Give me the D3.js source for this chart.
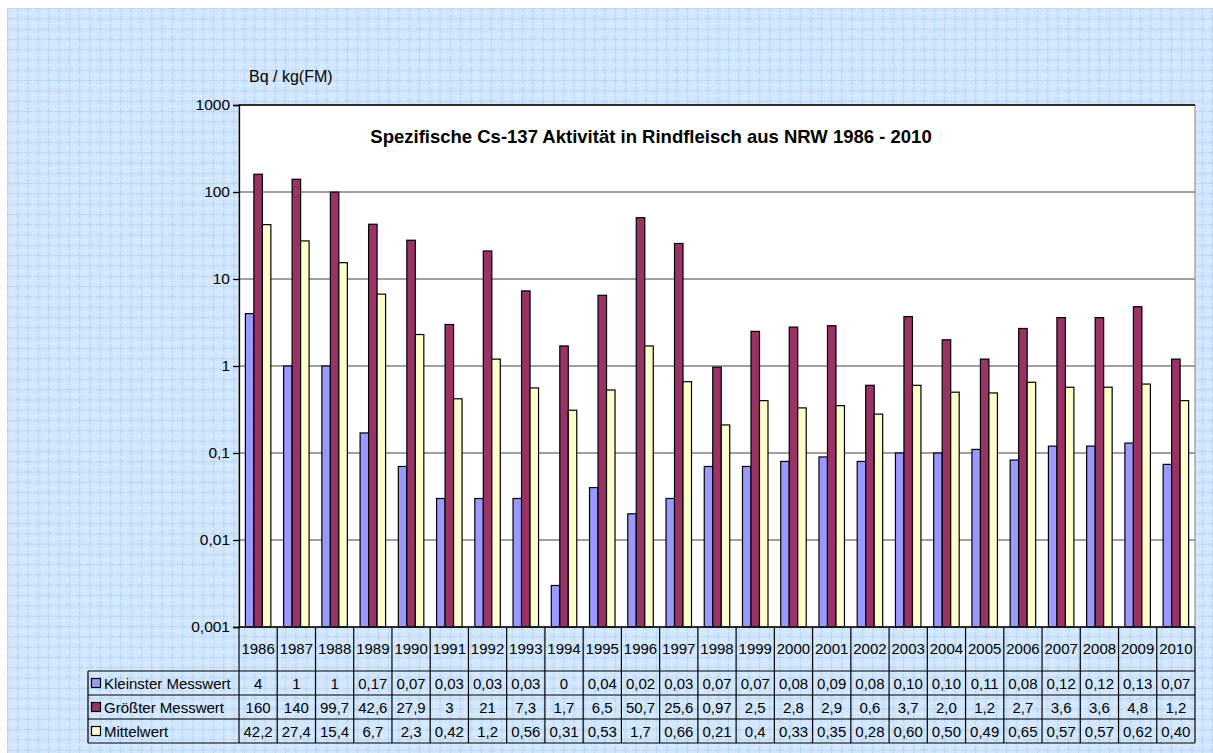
<!DOCTYPE html>
<html><head><meta charset="utf-8">
<script src="https://cdn.jsdelivr.net/npm/d3@7"></script>
<style>html,body{margin:0;padding:0;background:#fff;}svg{display:block;font-family:"Liberation Sans",Arial,sans-serif;}</style>
</head><body>
<svg id="c" width="1213" height="753"></svg>
<script>
const years = ["1986","1987","1988","1989","1990","1991","1992","1993","1994","1995","1996","1997","1998","1999","2000","2001","2002","2003","2004","2005","2006","2007","2008","2009","2010"];
const seriesNames = ["Kleinster Messwert","Größter Messwert","Mittelwert"];
const seriesColors = ["#9999FF","#993366","#FFFFCC"];
const kleinster = [4,1,1,0.17,0.07,0.03,0.03,0.03,0.003,0.04,0.02,0.03,0.07,0.07,0.08,0.09,0.08,0.10,0.10,0.11,0.083,0.12,0.12,0.13,0.074];
const groesster = [160,140,99.7,42.6,27.9,3,21,7.3,1.7,6.5,50.7,25.6,0.97,2.5,2.8,2.9,0.6,3.7,2.0,1.2,2.7,3.6,3.6,4.8,1.2];
const mittel = [42.2,27.4,15.4,6.7,2.3,0.42,1.2,0.56,0.31,0.53,1.7,0.66,0.21,0.4,0.33,0.35,0.28,0.60,0.50,0.49,0.65,0.57,0.57,0.62,0.40];
const kleinsterText = ["4","1","1","0,17","0,07","0,03","0,03","0,03","0","0,04","0,02","0,03","0,07","0,07","0,08","0,09","0,08","0,10","0,10","0,11","0,08","0,12","0,12","0,13","0,07"];
const groessterText = ["160","140","99,7","42,6","27,9","3","21","7,3","1,7","6,5","50,7","25,6","0,97","2,5","2,8","2,9","0,6","3,7","2,0","1,2","2,7","3,6","3,6","4,8","1,2"];
const mittelText = ["42,2","27,4","15,4","6,7","2,3","0,42","1,2","0,56","0,31","0,53","1,7","0,66","0,21","0,4","0,33","0,35","0,28","0,60","0,50","0,49","0,65","0,57","0,57","0,62","0,40"];
const yTicks = [0.001,0.01,0.1,1,10,100,1000];
const yTickLabels = ["0,001","0,01","0,1","1","10","100","1000"];
const title = "Spezifische Cs-137 Aktivität in Rindfleisch aus NRW 1986 - 2010";
const unit = "Bq / kg(FM)";

const svg = d3.select("#c");
const defs = svg.append("defs");
const P = 10.3;
const pat = defs.append("pattern").attr("id","grid").attr("patternUnits","userSpaceOnUse")
  .attr("x",7).attr("y",8).attr("width",P).attr("height",P);
pat.append("rect").attr("width",P).attr("height",P).attr("fill","#d3e7fc");
pat.append("line").attr("x1",0).attr("y1",0.5).attr("x2",P).attr("y2",0.5).attr("stroke","#b3d5f7").attr("stroke-width",1);
pat.append("line").attr("x1",0.5).attr("y1",0).attr("x2",0.5).attr("y2",P).attr("stroke","#b3d5f7").attr("stroke-width",1);
pat.append("line").attr("x1",0).attr("y1",5.5).attr("x2",P).attr("y2",5.5).attr("stroke","#e8f3ff").attr("stroke-width",1).attr("stroke-dasharray","1,3");
pat.append("line").attr("x1",5.5).attr("y1",0).attr("x2",5.5).attr("y2",P).attr("stroke","#e8f3ff").attr("stroke-width",1).attr("stroke-dasharray","1,3");
svg.append("rect").attr("x",7).attr("y",8).attr("width",1206).attr("height",745).attr("fill","url(#grid)");

const L = 239, R = 1195, T = 105, B = 627;
const x = d3.scaleBand().domain(years).range([L,R]).paddingInner(1/3).paddingOuter(1/6);
const xs = d3.scaleBand().domain(seriesNames).range([0,x.bandwidth()]);
const xc = d3.scaleBand().domain(years).range([L,R]);
const y = d3.scaleLog().domain([0.001,1000]).range([B,T]);

svg.append("rect").attr("x",L).attr("y",T).attr("width",R-L).attr("height",B-T).attr("fill","#fff");
svg.append("g").selectAll("line").data(yTicks.slice(1,-1)).join("line")
  .attr("x1",L).attr("x2",R).attr("y1",d=>y(d)).attr("y2",d=>y(d)).attr("stroke","#808080").attr("stroke-width",1.3);

const seriesData = [kleinster,groesster,mittel];
seriesData.forEach((arr,si)=>{
  svg.append("g").selectAll("rect").data(arr).join("rect")
    .attr("x",(d,i)=>x(years[i])+xs(seriesNames[si]))
    .attr("y",d=>y(d))
    .attr("width",xs.bandwidth())
    .attr("height",d=>B-y(d))
    .attr("fill",seriesColors[si]).attr("stroke","#000").attr("stroke-width",1.2);
});
svg.append("rect").attr("x",L).attr("y",T).attr("width",R-L).attr("height",B-T).attr("fill","none").attr("stroke","#808080").attr("stroke-width",1);
svg.append("line").attr("x1",L).attr("x2",R).attr("y1",T).attr("y2",T).attr("stroke","#000").attr("stroke-width",1.3);

const yAxis = d3.axisLeft(y).tickValues(yTicks).tickFormat((d,i)=>yTickLabels[i]).tickSizeOuter(0).tickSize(6).tickPadding(3);
const ga = svg.append("g").attr("transform",`translate(${L},0)`).call(yAxis);
ga.select(".domain").attr("stroke","#000").attr("stroke-width",1.3);
ga.selectAll(".tick line").attr("stroke","#000").attr("stroke-width",1.3);
ga.selectAll(".tick text").attr("font-size",15.5).attr("fill","#000").attr("font-family","'Liberation Sans',Arial,sans-serif");

svg.append("line").attr("x1",L).attr("x2",R).attr("y1",B).attr("y2",B).attr("stroke","#000").attr("stroke-width",1.3);

const rowTop = 671, rowH = 24, tBottom = 743, legL = 88;
const FS = 15;
const tbl = svg.append("g");
tbl.selectAll("line.v").data(years.concat(["end"])).join("line")
  .attr("x1",(d,i)=> i<years.length ? xc(d) : R).attr("x2",(d,i)=> i<years.length ? xc(d) : R)
  .attr("y1",B).attr("y2",tBottom).attr("stroke","#000").attr("stroke-width",1.2);
[0,1,2,3].forEach(k=>{
  const yy = k<3 ? rowTop + k*rowH : tBottom;
  tbl.append("line").attr("x1",legL).attr("x2",R).attr("y1",yy).attr("y2",yy).attr("stroke","#000").attr("stroke-width",1.2);
});
tbl.append("line").attr("x1",legL).attr("x2",legL).attr("y1",rowTop).attr("y2",tBottom).attr("stroke","#000").attr("stroke-width",1.2);
tbl.selectAll("text.yr").data(years).join("text")
  .attr("x",d=>xc(d)+xc.bandwidth()/2).attr("y",654).attr("text-anchor","middle").attr("font-size",FS).attr("fill","#000").text(d=>d);
const texts = [kleinsterText, groessterText, mittelText];
texts.forEach((arr,si)=>{
  const cy = rowTop + si*rowH + rowH/2 + 5.5;
  tbl.append("g").selectAll("text").data(arr).join("text")
    .attr("x",(d,i)=>xc(years[i])+xc.bandwidth()/2).attr("y",cy).attr("text-anchor","middle").attr("font-size",FS).attr("fill","#000").text(d=>d);
  tbl.append("rect").attr("x",legL+3.5).attr("y",rowTop+si*rowH+rowH/2-4.5).attr("width",9).attr("height",9)
    .attr("fill",seriesColors[si]).attr("stroke","#000").attr("stroke-width",1.2);
  tbl.append("text").attr("x",legL+16).attr("y",cy).attr("font-size",FS).attr("fill","#000").text(seriesNames[si]);
});

svg.append("text").attr("x",651).attr("y",143).attr("text-anchor","middle").attr("font-size",18.5).attr("font-weight","bold").attr("fill","#000").text(title);
svg.append("text").attr("x",249).attr("y",82).attr("font-size",16).attr("fill","#000").text(unit);
</script>
</body></html>
